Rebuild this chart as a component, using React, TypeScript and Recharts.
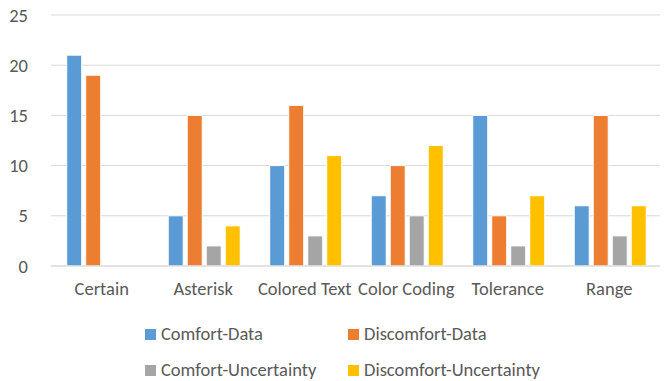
import React from 'react';
import { BarChart, Bar, XAxis, YAxis, CartesianGrid, Legend } from 'recharts';

const categories = ['Certain', 'Asterisk', 'Colored Text', 'Color Coding', 'Tolerance', 'Range'];
const comfortData = [21, 5, 10, 7, 15, 6];
const discomfortData = [19, 15, 16, 10, 5, 15];
const comfortUncertainty = [null, 2, 3, 5, 2, 3];
const discomfortUncertainty = [null, 4, 11, 12, 7, 6];
const yTicks = [0, 5, 10, 15, 20, 25];

const series = [
  { key: 'comfortData', name: 'Comfort-Data', color: '#5B9BD5' },
  { key: 'discomfortData', name: 'Discomfort-Data', color: '#ED7D31' },
  { key: 'comfortUncertainty', name: 'Comfort-Uncertainty', color: '#A5A5A5' },
  { key: 'discomfortUncertainty', name: 'Discomfort-Uncertainty', color: '#FFC000' },
];

const data = categories.map((name, i) => ({
  name,
  comfortData: comfortData[i],
  discomfortData: discomfortData[i],
  comfortUncertainty: comfortUncertainty[i],
  discomfortUncertainty: discomfortUncertainty[i],
}));

const FONT = 'Carlito, Calibri, Lato, sans-serif';
const TEXT = '#595959';
const FONT_SIZE = 18.5;

// two-column legend laid out like the office-style chart
const LegendGrid = () => (
  <div style={{ position: 'relative', width: 668, height: 70, fontFamily: FONT, fontSize: FONT_SIZE, color: TEXT }}>
    {series.map((s, i) => {
      const left = i % 2 === 0 ? 145 : 348;
      const top = i < 2 ? 12 : 48;
      return (
        <div key={s.key} style={{ position: 'absolute', left, top, display: 'flex', alignItems: 'center', whiteSpace: 'nowrap', lineHeight: '22px' }}>
          <span style={{ width: 11, height: 11, background: s.color, display: 'inline-block', marginRight: 5 }} />
          <span>{s.name}</span>
        </div>
      );
    })}
  </div>
);

export default function App() {
  return (
    <div style={{ position: 'fixed', left: 0, top: 0, width: 668, height: 381, background: '#fff' }}>
      <BarChart
        width={668}
        height={381}
        data={data}
        margin={{ top: 15, right: 8, left: 0, bottom: 0 }}
        barCategoryGap="15.5%"
        barGap={4}
      >
        <CartesianGrid vertical={false} stroke="#D9D9D9" strokeWidth={1} />
        <XAxis
          dataKey="name"
          height={45}
          tickLine={false}
          axisLine={{ stroke: '#D9D9D9' }}
          tick={{ fill: TEXT, fontSize: FONT_SIZE, fontFamily: FONT }}
          tickMargin={10}
          interval={0}
        />
        <YAxis
          width={51}
          domain={[0, 25]}
          ticks={yTicks}
          tickLine={false}
          axisLine={false}
          tick={{ fill: TEXT, fontSize: FONT_SIZE, fontFamily: FONT }}
          tickMargin={17}
        />
        <Legend
          verticalAlign="bottom"
          height={70}
          content={<LegendGrid />}
          wrapperStyle={{ left: 0, bottom: 0, width: 668 }}
        />
        {series.map((s) => (
          <Bar
            key={s.key}
            dataKey={s.key}
            name={s.name}
            fill={s.color}
            stroke="#fff"
            strokeWidth={1}
            isAnimationActive={false}
          />
        ))}
      </BarChart>
    </div>
  );
}
